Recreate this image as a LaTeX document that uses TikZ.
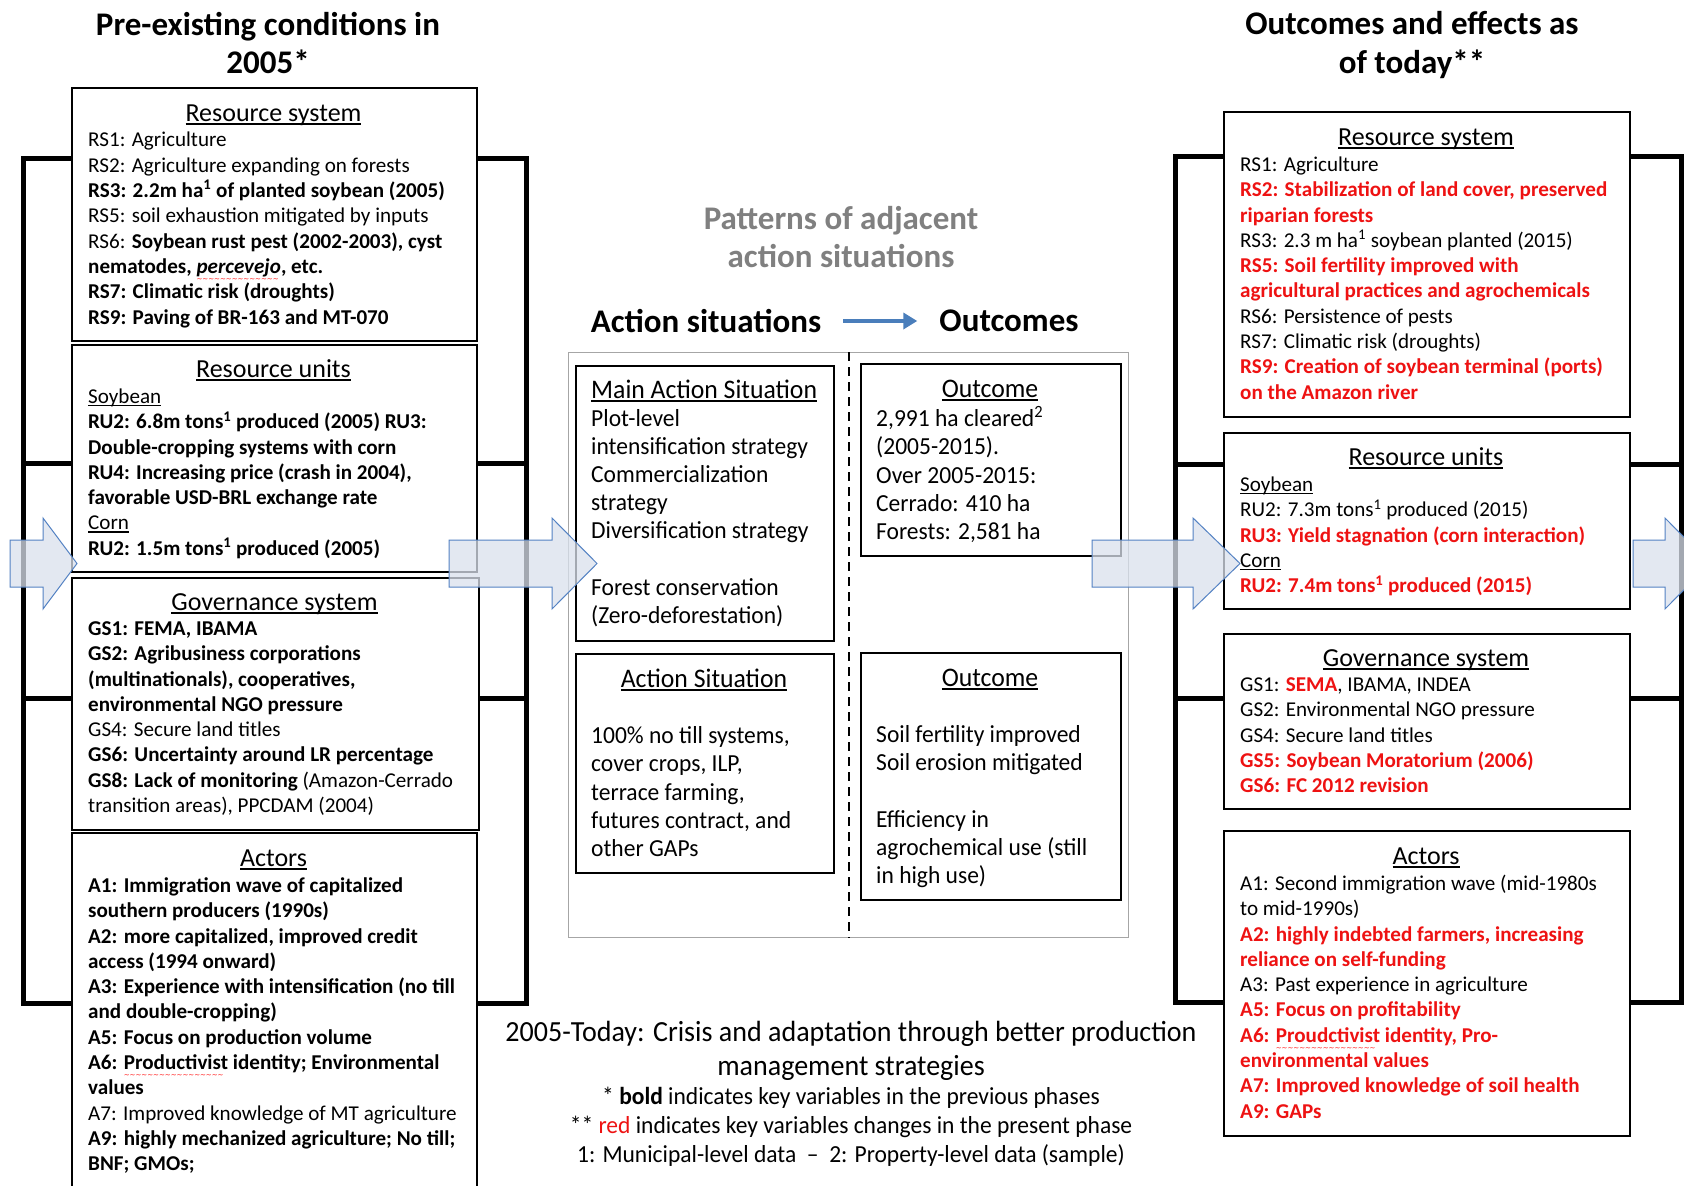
\documentclass[tikz,border=0pt]{standalone}
\usepackage{fontspec}
\setmainfont{Carlito}
\newfontfamily\condfont[FakeStretch=0.96]{Carlito}
\newfontfamily\dejavu{DejaVu Sans}
\usetikzlibrary{arrows.meta}
\definecolor{redtxt}{RGB}{238,18,18}
\definecolor{arrfill}{RGB}{218,225,237}
\definecolor{arrline}{RGB}{84,130,195}
\definecolor{titlegrey}{RGB}{128,128,128}
\definecolor{bluearr}{RGB}{74,126,187}
\newcommand\hul[1]{\setbox0\hbox{#1}\rlap{\rule[-0.14em]{\wd0}{0.07em}}\box0\relax}
\newcommand\squig[2]{\setbox0\hbox{\textcolor{#1}{#2}}\rlap{\raisebox{-0.4em}{\color{red}\dejavu\mdseries\upshape\fontsize{7}{7}\selectfont\leaders\hbox{\char"7E}\hskip\wd0}}\box0\relax}
\newcommand\bodyfont{\fontsize{21.1}{25.3}\selectfont}
\newcommand\headfont{\fontsize{26}{30}\selectfont}
\newcommand\condbody{\condfont\fontsize{24.5}{28.1}\selectfont}
\newcommand\condhd{\condfont\fontsize{26.8}{28.1}\selectfont}
\newcommand\rb[1]{\textcolor{redtxt}{\textbf{#1}}}
\tikzset{
  panel/.style={draw=black, line width=1.8pt, fill=white, inner sep=0pt, anchor=north west},
  bodytxt/.style={anchor=north west, inner sep=0pt, align=left, font=\bodyfont},
  condtxt/.style={anchor=north west, inner sep=0pt, align=left, font=\condbody},
  headtxt/.style={anchor=base, inner sep=0pt, font=\headfont},
  condhead/.style={anchor=base, inner sep=0pt, font=\condhd},
  bracket/.style={line width=5pt, draw=black},
  blockarr/.style={fill=arrfill, fill opacity=0.75, draw=arrline, line width=1pt, line join=miter},
  bigtitle/.style={align=center, inner sep=0pt, font=\fontsize{33}{38.5}\selectfont\bfseries},
  midtitle/.style={inner sep=0pt, font=\fontsize{33}{38}\selectfont\bfseries},
}
\begin{document}
\begin{tikzpicture}[x=1pt,y=-1pt]
\useasboundingbox[fill=white] (0,0) rectangle (1684,1186);

% ---------- brackets ----------
\draw[bracket] (23,158) rectangle (526,1003);
\draw[bracket] (23,463) -- (526,463);
\draw[bracket] (23,698) -- (526,698);
\draw[bracket] (1175,156) rectangle (1681,1002);
\draw[bracket] (1175,464) -- (1681,464);
\draw[bracket] (1175,698) -- (1681,698);

% ---------- titles ----------
\node[bigtitle] (ltitle) at (268,43) {Pre-existing conditions in\\2005*};
\node[bigtitle] (rtitle) at (1412,45) {Outcomes and effects as\\of today**};
\node[bigtitle, text=titlegrey] (ctitle) at (841,237) {Patterns of adjacent\\action situations};
\node[midtitle] (hAS) at (706,321) {Action situations};
\node[midtitle] (hOut) at (1009,321) {Outcomes};
\draw[draw=bluearr, line width=3.5pt, -{Triangle[length=14pt,width=16pt]}, shorten <=22pt, shorten >=22pt] (hAS.east) -- (hOut.west);

% ---------- left column ----------
\node[panel, minimum width=405pt, minimum height=253pt] (lrs) at (71,87) {};
\node[panel, minimum width=405pt, minimum height=227pt] (lru) at (71,344) {};
\node[panel, minimum width=407pt, minimum height=252pt] (lgs) at (71,577) {};
\node[panel, minimum width=405pt, minimum height=380pt] (la) at (71,832) {};

\node[headtxt] (lrsH) at (273.5,121) {\hul{Resource system}};
\node[bodytxt] (lrsB) at (88,129) {\strut RS1: Agriculture\\
RS2: Agriculture expanding on forests\\
\textbf{RS3: 2.2m ha\textsuperscript{1} of planted soybean (2005)}\\
RS5: soil exhaustion mitigated by inputs\\
RS6: \textbf{Soybean rust pest (2002-2003), cyst}\\
\textbf{nematodes, \squig{black}{\textit{percevejo}}, etc.}\\
\textbf{RS7: Climatic risk (droughts)}\\
\textbf{RS9: Paving of BR-163 and MT-070}};

\node[headtxt] (lruH) at (273.5,377) {\hul{Resource units}};
\node[bodytxt] (lruB) at (88,385.5) {\strut\hul{Soybean}\\
\textbf{RU2: 6.8m tons\textsuperscript{1} produced (2005) RU3:}\\
\textbf{Double-cropping systems with corn}\\
\textbf{RU4: Increasing price (crash in 2004),}\\
\textbf{favorable USD-BRL exchange rate}\\
\hul{Corn}\\
\textbf{RU2: 1.5m tons\textsuperscript{1} produced (2005)}};

\node[headtxt] (lgsH) at (274.5,610) {\hul{Governance system}};
\node[bodytxt] (lgsB) at (88,617.5) {\strut\textbf{GS1: FEMA, IBAMA}\\
\textbf{GS2: Agribusiness corporations}\\
\textbf{(multinationals), cooperatives,}\\
\textbf{environmental NGO pressure}\\
GS4: Secure land titles\\
\textbf{GS6: Uncertainty around LR percentage}\\
\textbf{GS8: Lack of monitoring} (Amazon-Cerrado\\
transition areas), PPCDAM (2004)};

\node[headtxt] (laH) at (273.5,866) {\hul{Actors}};
\node[bodytxt] (laB) at (88,874.5) {\strut\textbf{A1: Immigration wave of capitalized}\\
\textbf{southern producers (1990s)}\\
\textbf{A2: more capitalized, improved credit}\\
\textbf{access (1994 onward)}\\
\textbf{A3: Experience with intensification (no till}\\
\textbf{and double-cropping)}\\
\textbf{A5: Focus on production volume}\\
\textbf{A6: \squig{black}{Productivist} identity; Environmental}\\
\textbf{values}\\
A7: Improved knowledge of MT agriculture\\
\textbf{A9: highly mechanized agriculture; No till;}\\
\textbf{BNF; GMOs;}};

% ---------- right column ----------
\node[panel, minimum width=406pt, minimum height=305pt] (rrs) at (1223,111) {};
\node[panel, minimum width=406pt, minimum height=176pt] (rru) at (1223,432) {};
\node[panel, minimum width=406pt, minimum height=175pt] (rgs) at (1223,633) {};
\node[panel, minimum width=406pt, minimum height=305pt] (ra) at (1223,830) {};

\node[headtxt] (rrsH) at (1426,145) {\hul{Resource system}};
\node[bodytxt] (rrsB) at (1240,153.5) {\strut RS1: Agriculture\\
\rb{RS2: Stabilization of land cover, preserved}\\
\rb{riparian forests}\\
RS3: 2.3 m ha\textsuperscript{1} soybean planted (2015)\\
\rb{RS5: Soil fertility improved with}\\
\rb{agricultural practices and agrochemicals}\\
RS6: Persistence of pests\\
RS7: Climatic risk (droughts)\\
\rb{RS9: Creation of soybean terminal (ports)}\\
\rb{on the Amazon river}};

\node[headtxt] (rruH) at (1426,465) {\hul{Resource units}};
\node[bodytxt] (rruB) at (1240,473.5) {\strut\hul{Soybean}\\
RU2: 7.3m tons\textsuperscript{1} produced (2015)\\
\rb{RU3: Yield stagnation (corn interaction)}\\
\hul{Corn}\\
\rb{RU2: 7.4m tons\textsuperscript{1} produced (2015)}};

\node[headtxt] (rgsH) at (1426,666) {\hul{Governance system}};
\node[bodytxt] (rgsB) at (1240,673.5) {\strut GS1: \rb{SEMA}, IBAMA, INDEA\\
GS2: Environmental NGO pressure\\
GS4: Secure land titles\\
\rb{GS5: Soybean Moratorium (2006)}\\
\rb{GS6: FC 2012 revision}};

\node[headtxt] (raH) at (1426,864) {\hul{Actors}};
\node[bodytxt] (raB) at (1240,872.5) {\strut A1: Second immigration wave (mid-1980s\\
to mid-1990s)\\
\rb{A2: highly indebted farmers, increasing}\\
\rb{reliance on self-funding}\\
A3: Past experience in agriculture\\
\rb{A5: Focus on profitability}\\
\textcolor{redtxt}{\textbf{A6: \squig{redtxt}{Proudctivist} identity, Pro-}}\\
\rb{environmental values}\\
\rb{A7: Improved knowledge of soil health}\\
\rb{A9: GAPs}};

% ---------- centre ----------
\node[draw=black!35, line width=1.2pt, fill=white, inner sep=0pt, anchor=north west, minimum width=560pt, minimum height=585pt] (outer) at (568,352) {};
\draw[line width=2pt, dash pattern=on 9pt off 6pt] (outer.north) -- (outer.south);

\node[panel, minimum width=258pt, minimum height=275pt] (cmain) at (575,365) {};
\node[panel, minimum width=260pt, minimum height=192pt] (cout1) at (860,363) {};
\node[panel, minimum width=258pt, minimum height=219pt] (cas) at (575,653) {};
\node[panel, minimum width=260pt, minimum height=247pt] (cout2) at (860,652) {};

\node[condtxt] (cmainB) at (591,378.5) {\strut{\condhd\hul{Main Action Situation}}\\
Plot-level\\
intensification strategy\\
Commercialization\\
strategy\\
Diversification strategy\\
\mbox{}\\
Forest conservation\\
(Zero-deforestation)};

\node[condhead] (cout1H) at (990,397.5) {\hul{Outcome}};
\node[condtxt] (cout1B) at (876,406.5) {\strut 2,991 ha cleared\textsuperscript{2}\\
(2005-2015).\\
Over 2005-2015:\\
Cerrado: 410 ha\\
Forests: 2,581 ha};

\node[condhead] (casH) at (704,687.5) {\hul{Action Situation}};
\node[condtxt] (casB) at (591,724) {\strut 100\% no till systems,\\
cover crops, ILP,\\
terrace farming,\\
futures contract, and\\
other GAPs};

\node[condhead] (cout2H) at (990,686.5) {\hul{Outcome}};
\node[condtxt] (cout2B) at (876,723) {\strut Soil fertility improved\\
Soil erosion mitigated\\
\mbox{}\\
Efficiency in\\
agrochemical use (still\\
in high use)};

% ---------- bottom notes ----------
\node[align=center, inner sep=0pt, font=\condfont\fontsize{29.2}{33.3}\selectfont] (note1) at (851,1051) {2005-Today: Crisis and adaptation through better production\\management strategies};
\node[align=center, inner sep=0pt, font=\condfont\fontsize{24.5}{28.8}\selectfont] (note2) at (851,1127) {* \textbf{bold} indicates key variables in the previous phases\\
** \textcolor{redtxt}{red} indicates key variables changes in the present phase\\
1: Municipal-level data \ – \ 2: Property-level data (sample)};

% ---------- block arrows ----------
\draw[blockarr] (10,540) -- (43,540) -- (43,518) -- (77,563.5) -- (43,609) -- (43,587) -- (10,587) -- cycle;
\draw[blockarr] (449,540) -- (552,540) -- (552,518) -- (597,563.5) -- (552,609) -- (552,587) -- (449,587) -- cycle;
\draw[blockarr] (1092,540) -- (1193,540) -- (1193,518) -- (1240,563.5) -- (1193,609) -- (1193,587) -- (1092,587) -- cycle;
\draw[blockarr] (1633,540) -- (1665,540) -- (1665,518) -- (1710,563.5) -- (1665,609) -- (1665,587) -- (1633,587) -- cycle;
\end{tikzpicture}
\end{document}
